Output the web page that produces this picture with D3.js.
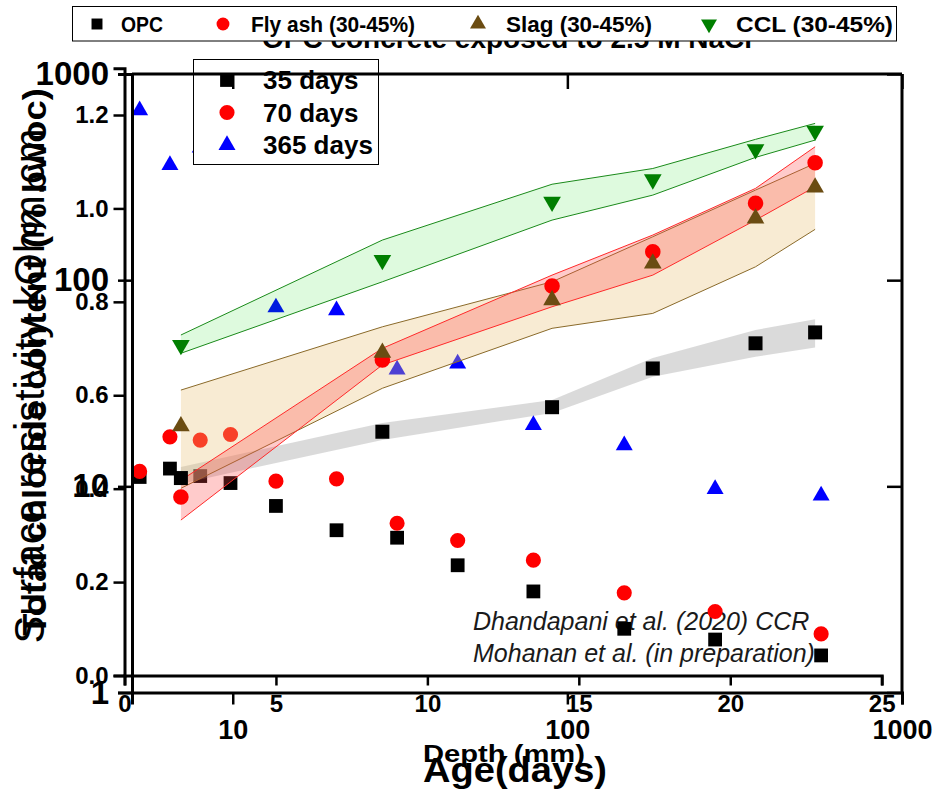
<!DOCTYPE html>
<html><head><meta charset="utf-8">
<script src="https://cdn.jsdelivr.net/npm/d3@7"></script>
<style>body{margin:0;background:#fff} svg{display:block} text{font-family:Arial,"Liberation Sans",sans-serif}</style>
</head><body><svg id="c" width="940" height="792"></svg>
<script>
// ---- Chloride profiles (OPC concrete exposed to 2.5 M NaCl) ----
const depths = [0.5,1.5,2.5,3.5,5,7,9,11,13.5,16.5,19.5,23];
const cl35  = [0.425,0.443,0.427,0.412,0.363,0.311,0.295,0.236,0.180,0.100,0.077,0.043];
const cl70  = [0.437,0.511,0.504,0.516,0.416,0.421,0.326,0.289,0.247,0.177,0.137,0.089];
const cl365 = [1.21,1.093,1.13,1.11,0.788,0.782,0.655,0.668,0.536,0.493,0.399,0.385];
const clSeries = ["35 days","70 days","365 days"];
const clXTicks = [0,5,10,15,20,25];
const clYTicks = [0,0.2,0.4,0.6,0.8,1.0,1.2];

// ---- Surface resistivity vs age ----
const ages = [7,28,90,180,365,550];
const opcMean = [10.97,18.4,24.2,37.3,49.4,55.8];
const opcHi   = [12.4,20.3,26.2,41.9,57.3,64.6];
const opcLo   = [10.3,16.8,22.7,34.0,42.5,47.2];
const flyMean = [8.87,41.0,93.6,137.3,235.8,371];
const flyHi   = [10.7,46.7,105.8,165.5,278.7,443.6];
const flyLo   = [6.86,38.8,74.3,105.8,195.6,283.8];
const slagMean = [19.6,44.5,80.1,120.6,199.4,281.9];
const slagHi   = [29.3,59.4,98.2,162.4,273.5,368.5];
const slagLo   = [9.78,29.9,58.4,69.0,116.1,176.4];
const cclMean = [48.4,125.2,240,308,431,530];
const cclHi   = [54.2,156.5,292,348,482,576];
const cclLo   = [44.2,98.2,195.6,258.6,394,478];
const resSeries = ["OPC","Fly ash (30-45%)","Slag (30-45%)","CCL (30-45%)"];
const resXTicks = [10,100,1000];
const resYTicks = [1,10,100,1000];

const svg = d3.select("#c");

// scales
const xC = d3.scaleLinear().domain([0,25]).range([124.5,881.7]);
const yC = d3.scaleLinear().domain([0,1.3]).range([675.5,68.3]);
const xR = d3.scaleLog().domain([5,1000]).range([132,902]);
const yR = d3.scaleLog().domain([1,1000]).range([692.5,74]);

const sym = (t,s)=>d3.symbol().type(t).size(s)();

// title (mostly hidden by legend)
svg.append("text").attr("x",507).attr("y",48).attr("text-anchor","middle")
  .attr("font-size",28).attr("font-weight","bold").text("OPC concrete exposed to 2.5 M NaCl");

// caption (under the markers)
const cap = svg.append("g").attr("font-size",25).attr("font-style","italic").attr("fill","#1a1a1a");
cap.append("text").attr("x",473).attr("y",630).text("Dhandapani et al. (2020) CCR");
cap.append("text").attr("x",473).attr("y",662).text("Mohanan et al. (in preparation)");

// chloride data
const clData = [cl35,cl70,cl365];
const clStyle = [
  {p:sym(d3.symbolSquare,190),c:"#000"},
  {p:sym(d3.symbolCircle,180),c:"#ff0000"},
  {p:sym(d3.symbolTriangle,125),c:"#0000ff"}];
clData.forEach((arr,i)=>{
  svg.append("g").selectAll("path").data(arr).join("path")
    .attr("d",clStyle[i].p).attr("fill",clStyle[i].c)
    .attr("transform",(d,j)=>`translate(${xC(depths[j])},${yC(d)})`);
});

// resistivity bands
function band(lo,hi,fill,stroke){
  const area = d3.area().x((d,i)=>xR(ages[i])).y0((d,i)=>yR(lo[i])).y1((d,i)=>yR(hi[i]));
  svg.append("path").attr("d",area(ages)).attr("fill",fill).attr("stroke","none");
  if(stroke){
    const l1 = d3.line().x((d,i)=>xR(ages[i])).y((d,i)=>yR(hi[i]));
    const l2 = d3.line().x((d,i)=>xR(ages[i])).y((d,i)=>yR(lo[i]));
    svg.append("path").attr("d",l1(ages)).attr("fill","none").attr("stroke",stroke).attr("stroke-width",1);
    svg.append("path").attr("d",l2(ages)).attr("fill","none").attr("stroke",stroke).attr("stroke-width",1);
  }
}
band(opcLo,opcHi,"rgba(140,140,140,0.32)",null);
band(slagLo,slagHi,"rgba(235,195,120,0.33)","#8a6a2a");
band(flyLo,flyHi,"rgba(255,70,70,0.28)","#ff2a2a");
band(cclLo,cclHi,"rgba(0,220,0,0.13)","#1a8a1a");

const resData = [opcMean,flyMean,slagMean,cclMean];
const resStyle = [
  {p:sym(d3.symbolSquare,196),c:"#000",r:0},
  {p:sym(d3.symbolCircle,190),c:"#ff0000",r:0},
  {p:sym(d3.symbolTriangle,135),c:"#6b4c12",r:0},
  {p:sym(d3.symbolTriangle,135),c:"#007f00",r:180}];
resData.forEach((arr,i)=>{
  svg.append("g").selectAll("path").data(arr).join("path")
    .attr("d",resStyle[i].p).attr("fill",resStyle[i].c)
    .attr("transform",(d,j)=>`translate(${xR(ages[j])},${yR(d)}) rotate(${resStyle[i].r})`);
});

// chloride legend
const lg = svg.append("g");
lg.append("rect").attr("x",193.5).attr("y",59.5).attr("width",185).attr("height",105)
  .attr("fill","#fff").attr("stroke","#000").attr("stroke-width",1);
clSeries.forEach((s,i)=>{
  const cy = 80 + i*32.5;
  lg.append("path").attr("d",clStyle[i].p).attr("fill",clStyle[i].c).attr("transform",`translate(227,${cy})`);
  lg.append("text").attr("x",263).attr("y",cy+9).attr("font-size",26).attr("font-weight","bold").text(s);
});

// chloride axes
const gxC = svg.append("g").attr("transform","translate(0,675.5)");
gxC.call(d3.axisBottom(xC).tickValues(d3.range(0,25.1,2.5)).tickSize(5).tickFormat(""));
gxC.call(d3.axisBottom(xC).tickValues(clXTicks).tickSize(10).tickPadding(9).tickFormat(d3.format("d")));
const gyC = svg.append("g").attr("transform","translate(124.5,0)");
gyC.call(d3.axisLeft(yC).tickValues(d3.range(0,1.31,0.1)).tickSize(6).tickFormat(""));
gyC.call(d3.axisLeft(yC).tickValues(clYTicks).tickSize(11).tickPadding(5).tickFormat(d3.format(".1f")));
[gxC,gyC].forEach(g=>{
  g.selectAll("path.domain").attr("stroke-width",3).attr("stroke","#000");
  g.selectAll("line").attr("stroke-width",2.5).attr("stroke","#000");
  g.selectAll("text").attr("font-size",24).attr("font-weight","bold").attr("fill","#000").attr("font-family","Arial,'Liberation Sans',sans-serif");
});

// resistivity axes
const minorX = [];
[1,10,100].forEach(dec=>{for(let k=1;k<10;k++){const v=k*dec; if(v>=5&&v<=1000) minorX.push(v);}});
minorX.push(1000);
const minorY = [];
[1,10,100].forEach(dec=>{for(let k=1;k<10;k++) minorY.push(k*dec);});
minorY.push(1000);
const fmt = d=>String(d);
const gxR = svg.append("g").attr("transform","translate(0,692.5)");
gxR.call(d3.axisBottom(xR).tickValues(minorX).tickSize(7).tickFormat(""));
gxR.call(d3.axisBottom(xR).tickValues(resXTicks).tickSize(12).tickPadding(15).tickFormat(fmt));
const gxRt = svg.append("g").attr("transform","translate(0,74)");
gxRt.call(d3.axisBottom(xR).tickValues(minorX).tickSize(8).tickFormat(""));
gxRt.call(d3.axisBottom(xR).tickValues(resXTicks).tickSize(15).tickFormat(""));
const gyR = svg.append("g").attr("transform","translate(132,0)");
gyR.call(d3.axisLeft(yR).tickValues(minorY).tickSize(8).tickFormat(""));
gyR.call(d3.axisLeft(yR).tickValues(resYTicks).tickSize(14).tickPadding(9).tickFormat(fmt));
const gyRr = svg.append("g").attr("transform","translate(902,0)");
gyRr.call(d3.axisLeft(yR).tickValues(minorY).tickSize(8).tickFormat(""));
gyRr.call(d3.axisLeft(yR).tickValues(resYTicks).tickSize(15).tickFormat(""));
[gxR,gxRt,gyR,gyRr].forEach(g=>{
  g.selectAll("path.domain").attr("stroke-width",3).attr("stroke","#000");
  g.selectAll("line").attr("stroke-width",2.5).attr("stroke","#000");
  g.selectAll("text").attr("font-weight","bold").attr("fill","#000").attr("font-family","Arial,'Liberation Sans',sans-serif");
});
gxR.selectAll("text").attr("font-size",27);
gyR.selectAll("text").attr("font-size",33);
gxRt.select("path.domain").attr("d","M132,0H902");
gyRr.select("path.domain").attr("d","M0,692.5V74");

// top legend (resistivity)
const tl = svg.append("g");
tl.append("rect").attr("x",72.5).attr("y",6.5).attr("width",824).attr("height",34.5)
  .attr("fill","#fff").attr("stroke","#000").attr("stroke-width",1);
const tlPos = [{m:97,t:121,w:42},{m:223,t:251,w:164},{m:478,t:506,w:146},{m:709,t:736,w:157}];
resSeries.forEach((s,i)=>{
  tl.append("path").attr("d",d3.symbol().type(i==0?d3.symbolSquare:i==1?d3.symbolCircle:d3.symbolTriangle).size(i==0?120:i==1?130:110)())
    .attr("fill",resStyle[i].c).attr("transform",`translate(${tlPos[i].m},24) rotate(${resStyle[i].r})`);
  tl.append("text").attr("x",tlPos[i].t).attr("y",32).attr("font-size",22).attr("font-weight","bold")
    .attr("textLength",tlPos[i].w).attr("lengthAdjust","spacingAndGlyphs").text(s);
});

// axis titles
svg.append("text").attr("transform","translate(44,386) rotate(-90)").attr("text-anchor","middle")
  .attr("font-size",43).attr("textLength",515).attr("lengthAdjust","spacingAndGlyphs").text("Surface resistivity kOhm.cm");
svg.append("text").attr("transform","translate(46,362) rotate(-90)").attr("text-anchor","middle")
  .attr("font-size",34).attr("font-weight","bold").attr("textLength",548).attr("lengthAdjust","spacingAndGlyphs").text("Total chloride content (% bwoc)");
svg.append("text").attr("x",423).attr("y",762).attr("font-size",23).attr("font-weight","bold")
  .attr("textLength",162).attr("lengthAdjust","spacingAndGlyphs").text("Depth (mm)");
svg.append("text").attr("x",423).attr("y",782).attr("font-size",35).attr("font-weight","bold")
  .attr("textLength",184).attr("lengthAdjust","spacingAndGlyphs").text("Age(days)");
</script></body></html>
